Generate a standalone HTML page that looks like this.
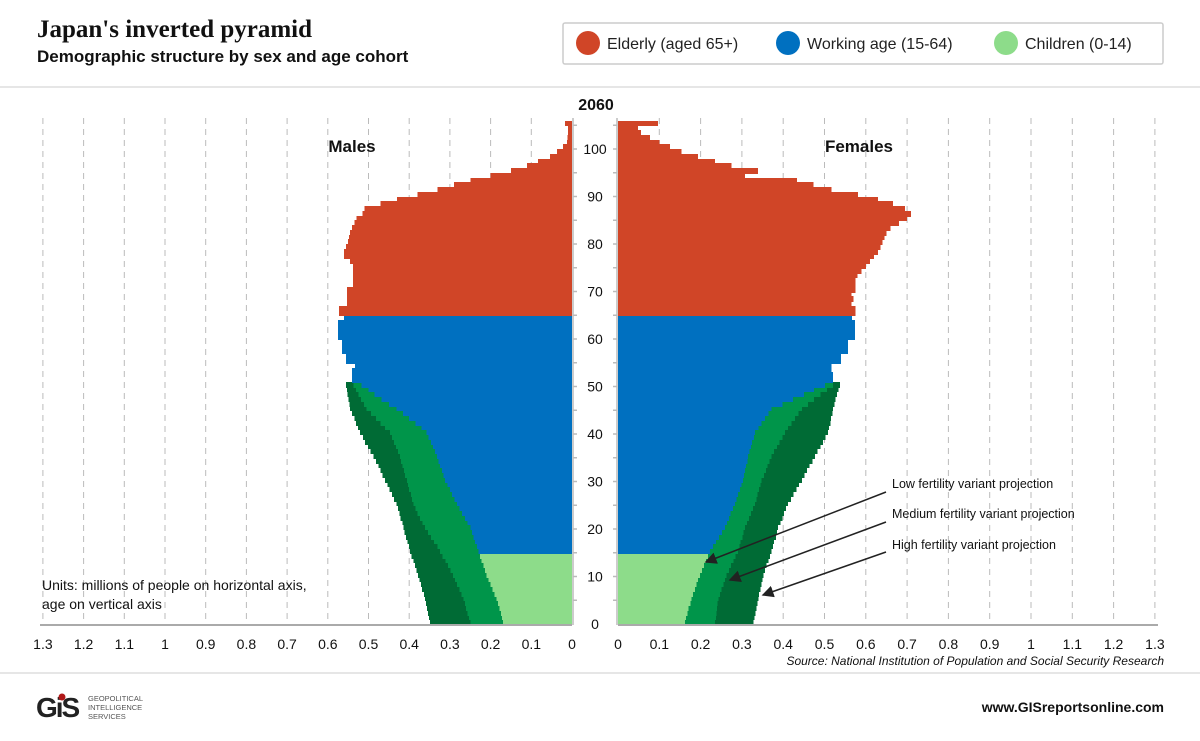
<!DOCTYPE html>
<html><head><meta charset="utf-8">
<style>
body{margin:0;background:#fff;}
#wrap{position:relative;width:1200px;height:741px;overflow:hidden;background:#fff;font-family:"Liberation Sans",sans-serif;}
</style></head>
<body>
<div id="wrap">
<svg id="chart" width="1200" height="741" viewBox="0 0 1200 741" xmlns="http://www.w3.org/2000/svg">
  <text x="37" y="37" font-family="Liberation Serif,serif" font-weight="bold" font-size="25" fill="#111">Japan's inverted pyramid</text>
  <text x="37" y="62" font-family="Liberation Sans,sans-serif" font-weight="bold" font-size="17" fill="#111">Demographic structure by sex and age cohort</text>
  <g>
    <rect x="563" y="23" width="600" height="41" rx="2" fill="#fff" stroke="#ccc" stroke-width="1.5"/>
    <g><ellipse cx="588" cy="43" rx="12" ry="12" fill="#d04527"/><text x="607" y="49" font-size="16" fill="#222">Elderly (aged 65+)</text></g>
    <g><ellipse cx="788" cy="43" rx="12" ry="12" fill="#0070c0"/><text x="807" y="49" font-size="16" fill="#222">Working age (15-64)</text></g>
    <g><ellipse cx="1006" cy="43" rx="12" ry="12" fill="#8ddc8a"/><text x="1025" y="49" font-size="16" fill="#222">Children (0-14)</text></g>
  </g>
  <line x1="0" y1="87" x2="1200" y2="87" stroke="#ddd" stroke-width="1.5"/>
  <line x1="0" y1="673" x2="1200" y2="673" stroke="#ddd" stroke-width="1.5"/>
  <g id="grid"></g>
  <g id="bars" shape-rendering="crispEdges"></g>
  <g id="axes"></g>
  <text x="352" y="152" font-size="17" font-weight="bold" text-anchor="middle" fill="#111">Males</text>
  <text x="859" y="152" font-size="17" font-weight="bold" text-anchor="middle" fill="#111">Females</text>
  <text x="596" y="110" font-size="16" font-weight="bold" text-anchor="middle" fill="#111">2060</text>
  <text x="42" y="590" font-size="14" fill="#111">Units: millions of people on horizontal axis,</text>
  <text x="42" y="609" font-size="14" fill="#111">age on vertical axis</text>
  <g font-size="12.5" fill="#111">
    <text x="892" y="488">Low fertility variant projection</text>
    <text x="892" y="518">Medium fertility variant projection</text>
    <text x="892" y="549">High fertility variant projection</text>
    <defs><marker id="ah" markerWidth="8" markerHeight="8" refX="7" refY="4" orient="auto"><path d="M0,0 L8,4 L0,8 z" fill="#222"/></marker></defs>
    <line x1="886" y1="492" x2="706" y2="562" stroke="#222" stroke-width="1.5" marker-end="url(#ah)"/>
    <line x1="886" y1="522" x2="730" y2="580" stroke="#222" stroke-width="1.5" marker-end="url(#ah)"/>
    <line x1="886" y1="552" x2="763" y2="595" stroke="#222" stroke-width="1.5" marker-end="url(#ah)"/>
  </g>
  <text x="1164" y="665" font-size="12" font-style="italic" text-anchor="end" fill="#111">Source: National Institution of Population and Social Security Research</text>
  <g>
    <text x="36" y="717" font-size="28" font-weight="bold" fill="#222" font-family="Liberation Sans,sans-serif" letter-spacing="-2">GiS</text>
    <circle cx="62" cy="697" r="3.5" fill="#b01818"/>
    <text x="88" y="701" font-size="7.5" fill="#555">GEOPOLITICAL</text>
    <text x="88" y="710" font-size="7.5" fill="#555">INTELLIGENCE</text>
    <text x="88" y="719" font-size="7.5" fill="#555">SERVICES</text>
  </g>
  <text x="1164" y="712" font-size="14" font-weight="bold" text-anchor="end" fill="#111">www.GISreportsonline.com</text>
</svg>
</div>
<script>
const xTicks=[0,0.1,0.2,0.3,0.4,0.5,0.6,0.7,0.8,0.9,1,1.1,1.2,1.3];
const xTickLabels=["0","0.1","0.2","0.3","0.4","0.5","0.6","0.7","0.8","0.9","1","1.1","1.2","1.3"];
const ageTicks=[0,10,20,30,40,50,60,70,80,90,100];
// ages 0..50 three fertility variants
const maleLow=[.169,.172,.175,.178,.182,.185,.19,.195,.20,.205,.21,.214,.218,.222,.226,.23,.234,.238,.242,.246,.25,.257,.263,.27,.277,.283,.289,.295,.30,.306,.312,.316,.32,.324,.328,.332,.337,.342,.347,.352,.357,.37,.385,.40,.415,.431,.45,.468,.485,.50,.517];
const maleMed=[.25,.253,.257,.26,.263,.267,.272,.277,.282,.287,.292,.298,.305,.311,.318,.324,.331,.339,.346,.354,.361,.367,.373,.379,.384,.39,.393,.396,.4,.403,.406,.41,.413,.416,.42,.423,.428,.433,.437,.442,.447,.459,.47,.482,.494,.505,.511,.518,.524,.531,.537];
const maleHigh=[.349,.351,.354,.356,.359,.361,.364,.368,.371,.375,.378,.382,.386,.39,.394,.398,.401,.404,.408,.411,.414,.417,.421,.424,.428,.431,.437,.442,.448,.453,.459,.465,.471,.476,.482,.488,.495,.501,.508,.514,.521,.526,.531,.535,.54,.545,.547,.549,.551,.553,.555];
const femLow=[.162,.165,.168,.171,.175,.178,.182,.186,.19,.194,.198,.203,.208,.213,.218,.223,.23,.237,.245,.252,.259,.264,.269,.273,.278,.283,.287,.291,.295,.299,.303,.305,.308,.31,.313,.315,.318,.322,.325,.329,.332,.34,.348,.356,.364,.372,.398,.424,.45,.475,.501];
const femMed=[.235,.237,.238,.24,.241,.243,.247,.251,.255,.259,.263,.269,.274,.28,.285,.291,.294,.297,.301,.304,.307,.312,.317,.322,.327,.332,.335,.338,.342,.345,.348,.353,.358,.362,.367,.372,.378,.385,.391,.398,.404,.412,.42,.429,.437,.445,.46,.475,.49,.506,.521];
const femHigh=[.328,.33,.333,.335,.338,.34,.342,.345,.347,.35,.352,.356,.36,.364,.368,.372,.375,.378,.382,.385,.388,.393,.398,.402,.407,.412,.419,.425,.432,.438,.445,.451,.458,.464,.471,.477,.483,.49,.496,.503,.509,.511,.514,.516,.519,.521,.524,.527,.53,.534,.537];
// ages 51..105
const maleOld=[.54,.54,.54,.533,.555,.555,.565,.565,.565,.575,.575,.575,.575,.56,.572,.572,.553,.553,.553,.553,.538,.538,.538,.538,.538,.545,.56,.56,.555,.55,.548,.545,.54,.535,.53,.515,.51,.47,.43,.38,.33,.29,.25,.2,.15,.11,.083,.054,.037,.022,.012,.011,.01,.01,.017];
const femOld=[.52,.52,.517,.517,.54,.54,.557,.557,.557,.574,.574,.574,.574,.566,.575,.575,.565,.57,.565,.575,.575,.575,.58,.59,.6,.61,.62,.63,.635,.64,.645,.65,.66,.68,.70,.71,.695,.666,.63,.581,.517,.473,.433,.307,.339,.275,.235,.194,.154,.126,.10,.077,.056,.048,.097];

const NS='http://www.w3.org/2000/svg';
const L0=572,LS=407,R0=618,RS=413,Y0=624,YH=4.75;
const xl=v=>L0-v*LS, xr=v=>R0+v*RS, yA=a=>Y0-a*YH;
const C={old:'#d04527',work:'#0070c0',kid:'#8ddc8a',med:'#00954a',high:'#006b35'};
function mk(tag,attrs,parent){const e=document.createElementNS(NS,tag);for(const k in attrs)e.setAttribute(k,attrs[k]);parent.appendChild(e);return e;}
const grid=document.getElementById('grid'),bars=document.getElementById('bars'),axes=document.getElementById('axes');
xTicks.forEach((t,i)=>{
  if(t>0){
    let g1=mk('line',{x1:xl(t),x2:xl(t),y1:118,y2:Y0,stroke:'#bbb','stroke-dasharray':'6,5','stroke-width':1},grid);
    
    
    let g2=mk('line',{x1:xr(t),x2:xr(t),y1:118,y2:Y0,stroke:'#bbb','stroke-dasharray':'6,5','stroke-width':1},grid);
    
    
  }
  let a=mk('text',{x:xl(t),y:649,'text-anchor':'middle','font-size':14,fill:'#111'},axes);a.textContent=xTickLabels[i];
  
  
  let b=mk('text',{x:xr(t),y:649,'text-anchor':'middle','font-size':14,fill:'#111'},axes);b.textContent=xTickLabels[i];
  
  
});
function bar(side,age,v,color,name){
  const yTop=Math.round(yA(age+1)), yBot=Math.round(yA(age));
  const x=side==='L'?xl(v):R0, w=v*(side==='L'?LS:RS);
  const r=mk('rect',{x:x,y:yTop,width:w,height:yBot-yTop+1,fill:color},bars);
  
  
}
for(let a=0;a<=50;a++){
  bar('L',a,maleHigh[a],C.high,'male-high-variant-bar');
  bar('L',a,maleMed[a],C.med,'male-medium-variant-bar');
  bar('L',a,maleLow[a],a<15?C.kid:C.work,'male-low-variant-bar');
  bar('R',a,femHigh[a],C.high,'female-high-variant-bar');
  bar('R',a,femMed[a],C.med,'female-medium-variant-bar');
  bar('R',a,femLow[a],a<15?C.kid:C.work,'female-low-variant-bar');
}
for(let i=0;i<maleOld.length;i++){
  const a=51+i, c=a>=65?C.old:C.work;
  bar('L',a,maleOld[i],c,'male-age-bar');
  bar('R',a,femOld[i],c,'female-age-bar');
}
const bl=mk('line',{x1:40,x2:L0,y1:Y0+1,y2:Y0+1,stroke:'#aaa','stroke-width':2},axes);


const br=mk('line',{x1:R0,x2:1158,y1:Y0+1,y2:Y0+1,stroke:'#aaa','stroke-width':2},axes);


const vl=mk('line',{x1:L0+1,x2:L0+1,y1:118,y2:Y0+1,stroke:'#ccc','stroke-width':2},axes);


const vr=mk('line',{x1:R0-1,x2:R0-1,y1:118,y2:Y0+1,stroke:'#ccc','stroke-width':2},axes);


for(let a=5;a<=105;a+=5){
  const t1=mk('line',{x1:L0+1,x2:L0+5,y1:yA(a),y2:yA(a),stroke:'#bbb','stroke-width':1.5},axes);
  
  
  const t2=mk('line',{x1:R0-5,x2:R0-1,y1:yA(a),y2:yA(a),stroke:'#bbb','stroke-width':1.5},axes);
  
  
}
ageTicks.forEach(a=>{
  const t=mk('text',{x:595,y:yA(a)+5,'text-anchor':'middle','font-size':14,fill:'#111'},axes);
  t.textContent=a;
  
  
});
</script>
</body></html>
